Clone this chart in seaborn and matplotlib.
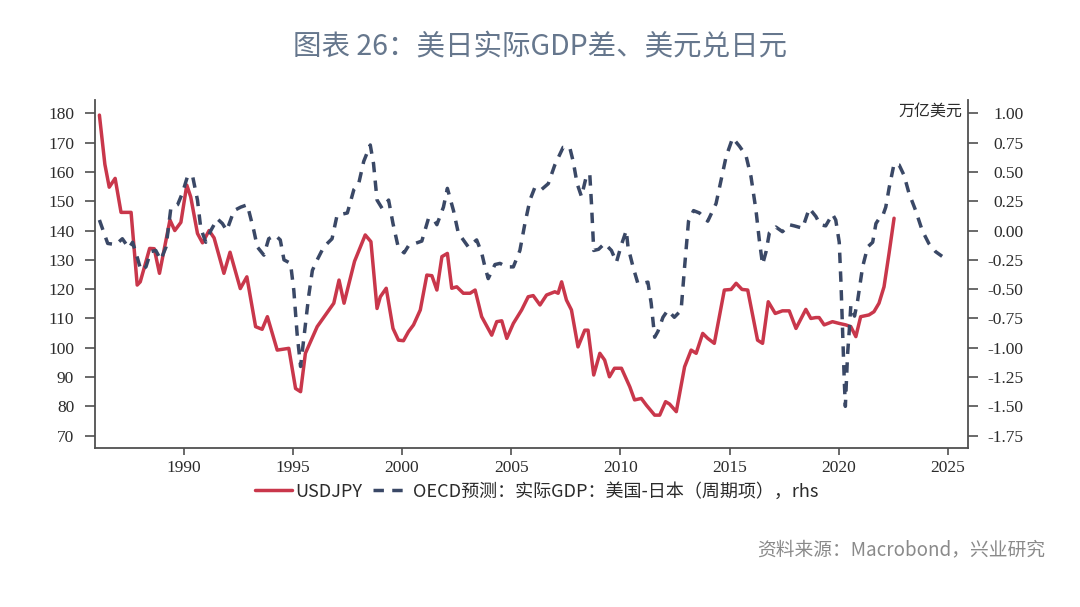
import matplotlib
matplotlib.use("Agg")
import matplotlib.pyplot as plt
import seaborn as sns
import numpy as np

# ---------------- data ----------------
usdjpy_dates = [1986.15, 1986.40, 1986.60, 1986.87, 1987.14, 1987.60, 1987.88, 1988.02,
                1988.45, 1988.66, 1988.90, 1989.38, 1989.60, 1989.88, 1990.15, 1990.33,
                1990.64, 1990.87, 1991.17, 1991.40, 1991.85, 1992.13, 1992.60, 1992.90,
                1993.30, 1993.60, 1993.84, 1994.29, 1994.82, 1995.13, 1995.36, 1995.58,
                1996.12, 1996.50, 1996.88, 1997.12, 1997.35, 1997.83, 1998.10, 1998.32,
                1998.58, 1998.86, 1999.01, 1999.28, 1999.59, 1999.84, 2000.07, 2000.30,
                2000.53, 2000.84, 2001.14, 2001.37, 2001.60, 2001.83, 2002.08, 2002.28,
                2002.51, 2002.81, 2003.12, 2003.35, 2003.65, 2004.11, 2004.34, 2004.57,
                2004.80, 2005.10, 2005.48, 2005.78, 2006.01, 2006.32, 2006.62, 2007.00,
                2007.15, 2007.31, 2007.53, 2007.76, 2008.06, 2008.37, 2008.52, 2008.78,
                2009.06, 2009.28, 2009.50, 2009.73, 2010.05, 2010.43, 2010.65, 2010.96,
                2011.19, 2011.57, 2011.80, 2012.07, 2012.25, 2012.56, 2012.94, 2013.24,
                2013.47, 2013.77, 2014.00, 2014.30, 2014.76, 2015.07, 2015.30, 2015.57,
                2015.83, 2016.28, 2016.51, 2016.77, 2017.09, 2017.42, 2017.73, 2018.04,
                2018.49, 2018.72, 2018.95, 2019.10, 2019.33, 2019.71, 2020.02, 2020.32,
                2020.55, 2020.78, 2021.00, 2021.38, 2021.61, 2021.84, 2022.07, 2022.30,
                2022.53]
usdjpy_values = [179.4, 162.6, 154.8, 157.8, 146.2, 146.2, 121.4, 122.5,
                 133.9, 133.8, 125.4, 143.6, 140.0, 142.8, 155.5, 151.5,
                 139.0, 135.8, 140.0, 137.5, 125.4, 132.6, 120.2, 124.2,
                 107.2, 106.3, 110.6, 99.2, 99.8, 86.1, 85.0, 98.1,
                 107.2, 111.2, 115.2, 123.1, 115.2, 129.5, 134.5, 138.5,
                 136.2, 113.4, 117.4, 120.3, 106.6, 102.6, 102.4, 105.5,
                 107.8, 112.9, 124.8, 124.6, 119.7, 131.1, 132.2, 120.3,
                 120.8, 118.6, 118.6, 119.7, 110.6, 104.3, 108.9, 109.2,
                 103.2, 108.3, 112.9, 117.4, 117.8, 114.6, 118.0, 119.1,
                 118.6, 122.5, 116.3, 112.9, 100.3, 106.0, 106.0, 90.7,
                 98.1, 95.8, 90.1, 93.0, 93.0, 86.7, 82.2, 82.7,
                 80.4, 77.0, 77.0, 81.6, 80.8, 78.2, 93.5, 99.2,
                 98.1, 104.9, 103.2, 101.5, 119.7, 119.9, 122.0, 119.9,
                 119.7, 102.6, 101.5, 115.7, 111.7, 112.6, 112.6, 106.6,
                 113.1, 110.0, 110.3, 110.3, 107.8, 108.9, 108.3, 107.8,
                 107.2, 103.8, 110.6, 111.2, 112.3, 115.2, 120.8, 132.2,
                 144.2]

gdp_dates = [1986.15, 1986.53, 1986.90, 1987.20, 1987.50, 1987.67, 1987.90, 1988.05,
             1988.28, 1988.50, 1988.73, 1988.96, 1989.20, 1989.42, 1989.73, 1989.95,
             1990.18, 1990.41, 1990.64, 1990.79, 1991.02, 1991.25, 1991.55, 1991.78,
             1991.98, 1992.31, 1992.62, 1992.92, 1993.22, 1993.38, 1993.68, 1993.90,
             1994.20, 1994.43, 1994.60, 1994.90, 1995.05, 1995.20, 1995.36, 1995.50,
             1995.73, 1995.90, 1996.12, 1996.42, 1996.80, 1997.03, 1997.50, 1997.80,
             1998.02, 1998.25, 1998.55, 1998.70, 1998.86, 1999.09, 1999.39, 1999.59,
             1999.84, 2000.10, 2000.30, 2000.91, 2001.21, 2001.44, 2001.60, 2001.90,
             2002.08, 2002.36, 2002.58, 2002.89, 2003.04, 2003.42, 2003.65, 2003.80,
             2003.95, 2004.26, 2004.49, 2004.79, 2005.10, 2005.40, 2005.63, 2005.86,
             2006.09, 2006.39, 2006.70, 2007.00, 2007.38, 2007.68, 2007.84, 2008.02,
             2008.22, 2008.45, 2008.60, 2008.68, 2008.78, 2009.00, 2009.28, 2009.59,
             2009.82, 2010.05, 2010.27, 2010.35, 2010.58, 2010.80, 2011.03, 2011.26,
             2011.41, 2011.57, 2011.72, 2011.95, 2012.17, 2012.47, 2012.78, 2012.94,
             2013.12, 2013.35, 2013.62, 2014.00, 2014.38, 2014.61, 2014.84, 2015.14,
             2015.45, 2015.75, 2015.98, 2016.21, 2016.36, 2016.51, 2016.67, 2016.82,
             2017.12, 2017.42, 2017.73, 2017.96, 2018.34, 2018.65, 2018.95, 2019.15,
             2019.40, 2019.71, 2019.86, 2020.02, 2020.10, 2020.17, 2020.25, 2020.30,
             2020.40, 2020.48, 2020.55, 2020.72, 2020.86, 2021.09, 2021.32, 2021.55,
             2021.70, 2021.84, 2022.00, 2022.15, 2022.30, 2022.53, 2022.76, 2022.99,
             2023.21, 2023.52, 2023.82, 2024.12, 2024.43, 2024.73]
gdp_values = [0.09, -0.11, -0.12, -0.07, -0.15, -0.10, -0.24, -0.34,
              -0.31, -0.18, -0.17, -0.25, -0.14, 0.19, 0.22, 0.32,
              0.46, 0.47, 0.26, 0.02, -0.10, 0.00, 0.10, 0.06,
              0.00, 0.17, 0.20, 0.22, 0.00, -0.14, -0.21, -0.07,
              -0.04, -0.08, -0.25, -0.28, -0.51, -0.88, -1.16, -0.93,
              -0.56, -0.34, -0.25, -0.14, -0.07, 0.13, 0.15, 0.35,
              0.40, 0.59, 0.73, 0.57, 0.26, 0.19, 0.26, 0.06,
              -0.15, -0.19, -0.13, -0.09, 0.10, 0.10, 0.05, 0.20,
              0.36, 0.17, -0.02, -0.10, -0.14, -0.08, -0.19, -0.31,
              -0.41, -0.29, -0.28, -0.31, -0.31, -0.17, 0.06, 0.26,
              0.37, 0.35, 0.40, 0.56, 0.71, 0.71, 0.59, 0.40,
              0.29, 0.47, 0.48, 0.22, -0.17, -0.16, -0.11, -0.17,
              -0.27, -0.12, 0.00, -0.14, -0.31, -0.45, -0.45, -0.44,
              -0.62, -0.91, -0.86, -0.74, -0.68, -0.74, -0.68, -0.31,
              0.08, 0.17, 0.15, 0.08, 0.23, 0.43, 0.63, 0.79,
              0.72, 0.64, 0.46, 0.17, -0.08, -0.29, -0.18, -0.02,
              0.03, -0.01, 0.05, 0.04, 0.02, 0.19, 0.12, 0.05,
              0.04, 0.14, 0.09, -0.10, -0.45, -0.85, -1.28, -1.50,
              -1.06, -0.85, -0.64, -0.73, -0.60, -0.31, -0.14, -0.10,
              0.06, 0.10, 0.12, 0.20, 0.36, 0.57, 0.56, 0.47,
              0.32, 0.17, 0.00, -0.11, -0.18, -0.22]

left_ticks = [70, 80, 90, 100, 110, 120, 130, 140, 150, 160, 170, 180]
right_ticks = [-1.75, -1.50, -1.25, -1.00, -0.75, -0.50, -0.25, 0.00, 0.25, 0.50, 0.75, 1.00]
x_ticks = [1990, 1995, 2000, 2005, 2010, 2015, 2020, 2025]

title_text = "图表 26：美日实际GDP差、美元兑日元"
source_text = "资料来源：Macrobond，兴业研究"
unit_text = "万亿美元"
label_usdjpy = "USDJPY"
label_gdp = "OECD预测：实际GDP：美国-日本（周期项），rhs"

# ---------------- style ----------------
RED = "#c9374b"
NAVY = "#3a4866"
SPINE = "#505050"
TXT = "#2b2b2b"

sns.set_style("white")
plt.rcParams["font.family"] = ["Noto Sans CJK SC", "DejaVu Sans"]

fig = plt.figure(figsize=(10.8, 6.07), dpi=100)
fig.patch.set_facecolor("white")
ax = fig.add_axes([0.088, 0.262, 0.808, 0.573])

sns.lineplot(x=usdjpy_dates, y=usdjpy_values, ax=ax, color=RED, linewidth=2.5,
             label=label_usdjpy, legend=False, sort=False)
ax2 = ax.twinx()
sns.lineplot(x=gdp_dates, y=gdp_values, ax=ax2, color=NAVY, linewidth=2.5,
             label=label_gdp, legend=False, sort=False)
ax2.lines[0].set_linestyle((0, (3.0, 2.4)))

# limits: left 140 <-> right 0, 40 left units per 1 right unit
ylo, yhi = 65.8, 184.5
ax.set_ylim(ylo, yhi)
ax2.set_ylim((ylo - 140) / 40, (yhi - 140) / 40)
ax.set_xlim(1985.95, 2025.9)

ax.set_xticks(x_ticks)
ax.set_xticklabels([str(t) for t in x_ticks])
ax.set_yticks(left_ticks)
ax.set_yticklabels([str(t) for t in left_ticks])
ax2.set_yticks(right_ticks)
ax2.set_yticklabels([f"{t:.2f}" for t in right_ticks])
ax.set_xlabel("")
ax.set_ylabel("")
ax2.set_ylabel("")

for a in (ax, ax2):
    a.spines["top"].set_visible(False)
    for s in a.spines.values():
        s.set_color(SPINE)
        s.set_linewidth(1.3)
ax.spines["right"].set_visible(False)
ax2.spines["left"].set_visible(False)
ax2.spines["bottom"].set_visible(False)

ax.tick_params(axis="y", direction="out", length=7, width=1.2, color=SPINE,
               labelsize=12.5, labelcolor=TXT, pad=8, left=True)
ax.tick_params(axis="x", direction="out", length=5, width=1.2, color=SPINE,
               labelsize=12.5, labelcolor=TXT, pad=4, bottom=True)
ax2.tick_params(axis="y", direction="out", length=7, width=1.2, color=SPINE,
                labelsize=12.5, labelcolor=TXT, pad=33, right=True)
for lab in ax.get_xticklabels() + ax.get_yticklabels() + ax2.get_yticklabels():
    lab.set_fontfamily("Liberation Serif")
for lab in ax2.get_yticklabels():
    lab.set_horizontalalignment("right")

ax.grid(False)
ax2.grid(False)

ax2.text(0.994, 0.968, unit_text, transform=ax2.transAxes, ha="right", va="center",
         fontsize=11.5, color=TXT)

# legend
h1, l1 = ax.get_legend_handles_labels()
h2, l2 = ax2.get_legend_handles_labels()
fig.legend(h1 + h2, l1 + l2, loc="center", bbox_to_anchor=(0.497, 0.19), ncol=2,
           frameon=False, fontsize=13, handlelength=2.0, handletextpad=0.2,
           columnspacing=0.6, labelcolor=TXT)

fig.text(0.5, 0.923, title_text, ha="center", va="center", fontsize=20.5,
         color="#66778d", fontweight="medium")
fig.text(0.968, 0.094, source_text, ha="right", va="center", fontsize=13.5,
         color="#8a8a8a")

fig.savefig("out.png", dpi=100, facecolor="white")
